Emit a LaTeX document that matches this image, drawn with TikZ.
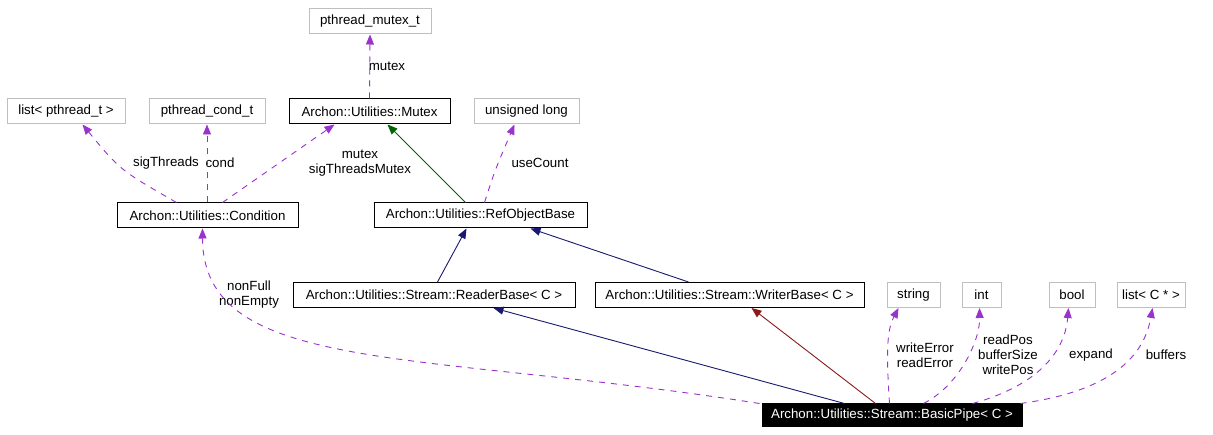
\documentclass[tikz,border=0pt]{standalone}
\usepackage{fontspec}
\setmainfont{Liberation Sans}
\usetikzlibrary{arrows.meta,calc}
\definecolor{mem}{HTML}{9A32CD}
\definecolor{inh}{HTML}{191970}
\definecolor{prv}{HTML}{8B1A1A}
\definecolor{grn}{HTML}{006400}
\definecolor{gbox}{HTML}{BFBFBF}
\begin{document}
\begin{tikzpicture}[x=1pt,y=-1pt,
  every node/.style={font=\fontsize{13.3}{15}\selectfont, inner sep=0pt},
  cls/.style={draw=black, line width=1pt, minimum height=25pt, fill=white},
  ext/.style={draw=gbox, line width=1pt, minimum height=25pt, fill=white},
  lbl/.style={align=center},
  tipa/.style={-{Triangle[length=10pt,width=8pt]}},
  memb/.style={tipa, color=mem, dash pattern=on 6pt off 6pt, line width=0.9pt},
  pub/.style={tipa, color=inh, line width=0.9pt},
  priv/.style={tipa, color=prv, line width=0.9pt},
  prot/.style={tipa, color=grn, line width=0.9pt}]
\useasboundingbox (0,0) rectangle (1213,435);
\fill[white] (0,0) rectangle (1213,435);

% nodes
\node[ext, minimum width=122pt] (pmt) at (370,21.5) {pthread\_mutex\_t};
\node[ext, minimum width=118pt] (lpt) at (66,111.5) {list< pthread\_t >};
\node[ext, minimum width=116pt] (pct) at (207,111.5) {pthread\_cond\_t};
\node[cls, minimum width=161pt] (mtx) at (369.5,111.5) {Archon::Utilities::Mutex};
\node[ext, minimum width=105pt] (ul) at (526.5,111.5) {unsigned long};
\node[cls, minimum width=181pt] (cnd) at (207.5,215.5) {Archon::Utilities::Condition};
\node[cls, minimum width=213pt] (rob) at (480.5,215.5) {Archon::Utilities::RefObjectBase};
\node[cls, minimum width=282pt] (rb) at (434,295) {Archon::Utilities::Stream::ReaderBase< C >};
\node[cls, minimum width=269pt] (wb) at (729.5,295) {Archon::Utilities::Stream::WriterBase< C >};
\node[ext, minimum width=53pt] (str) at (913.5,295) {string};
\node[ext, minimum width=39pt] (int) at (981.5,295) {int};
\node[ext, minimum width=46pt] (bool) at (1072,295) {bool};
\node[ext, minimum width=68pt] (lc) at (1151,295) {list< C * >};
\node[draw=black, fill=black, text=white, line width=1pt, minimum width=260pt, minimum height=23pt] (bp) at (892,415.5) {Archon::Utilities::Stream::BasicPipe< C >};

% labels
\node[lbl] (l1) at (387,66) {mutex};
\node[lbl] (l2) at (166,163) {sigThreads};
\node[lbl] (l3) at (220,163) {cond};
\node[lbl] (l4) at (360,163) {mutex\\sigThreadsMutex};
\node[lbl] (l5) at (540,163) {useCount};
\node[lbl] (l6) at (249,294.5) {nonFull\\nonEmpty};
\node[lbl] (l7) at (925,355.5) {writeError\\readError};
\node[lbl] (l8) at (1008,355) {readPos\\bufferSize\\writePos};
\node[lbl] (l9) at (1091,355) {expand};
\node[lbl] (l10) at (1166,355) {buffers};

% inheritance
\draw[pub] ([xshift=83pt]bp.north west) -- ([xshift=201pt]rb.south west);
\draw[priv] ([xshift=114pt]bp.north west) -- ([xshift=157pt]wb.south west);
\draw[pub] ([xshift=145pt]rb.north west) -- ([xshift=93pt]rob.south west);
\draw[pub] ([xshift=94pt]wb.north west) -- ([xshift=157pt]rob.south west);
\draw[prot] ([xshift=92pt]rob.north west) -- ([xshift=99pt]mtx.south west);

% members
\draw[memb] (mtx.north) -- (pmt.south);
\draw[memb] ([xshift=111pt]rob.north west) .. controls (495,170) .. ([xshift=41pt]ul.south west);
\draw[memb] ([xshift=60pt]cnd.north west) .. controls (120,170) .. ([xshift=76pt]lpt.south west);
\draw[memb] (cnd.north -| pct.south) -- (pct.south);
\draw[memb] ([xshift=106pt]cnd.north west) -- ([xshift=46pt]mtx.south west);
\draw[memb] ([xshift=-2pt]bp.north west) .. controls (420,350) and (203,375) .. ([xshift=86pt]cnd.south west);
\draw[memb] ([xshift=128pt]bp.north west) .. controls (886,350) and (887,330) .. ([xshift=12pt]str.south west);
\draw[memb] ([xshift=162pt]bp.north west) .. controls (960,385) and (980,340) .. ([xshift=18pt]int.south west);
\draw[memb] ([xshift=211pt]bp.north west) .. controls (1040,385) and (1065,350) .. ([xshift=20pt]bool.south west);
\draw[memb] ([xshift=259pt]bp.north west) .. controls (1120,390) and (1145,350) .. ([xshift=36pt]lc.south west);
\end{tikzpicture}
\end{document}
